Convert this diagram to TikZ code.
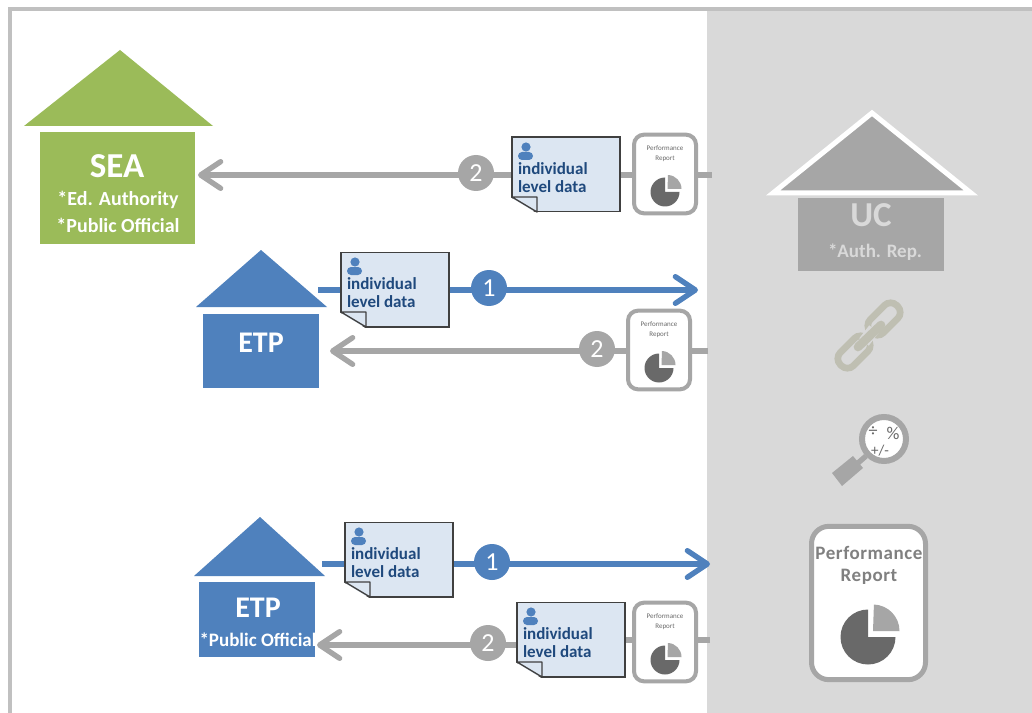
\documentclass[tikz,border=0pt]{standalone}
\usepackage{fontspec}
\setmainfont{Carlito}
\usetikzlibrary{arrows.meta,backgrounds}
\definecolor{grn}{HTML}{9BBB59}
\definecolor{blu}{HTML}{4F81BD}
\definecolor{dblu}{HTML}{1F497D}
\definecolor{gry}{HTML}{A6A6A6}
\definecolor{dgry}{HTML}{696969}
\definecolor{panel}{HTML}{D9D9D9}
\definecolor{frm}{HTML}{C0C0C0}
\definecolor{docfill}{HTML}{DCE6F2}
\definecolor{lnk}{HTML}{BFBFB2}
\newcommand{\fpx}[1]{\fontsize{\dimexpr#1pt*3/4\relax}{\dimexpr#1pt*3/4\relax}\selectfont}
\tikzset{
  x=0.75pt,y=-0.75pt,
  bodybox/.style={rectangle,inner sep=0pt,outer sep=0pt},
  lbl/.style={inner sep=0pt,outer sep=0pt,text=white},
  docbox/.style={rectangle,draw=black!75,line width=1pt,fill=docfill,inner sep=0pt,outer sep=0pt,minimum width=81pt,minimum height=56pt},
  doctext/.style={inner sep=0pt,outer sep=0pt,text=dblu,anchor=west,font=\fpx{17}\bfseries},
  repbox/.style={rectangle,draw=gry,line width=3pt,fill=white,rounded corners=7.5pt,inner sep=0pt,outer sep=0pt,minimum width=46.5pt,minimum height=59pt},
  reptext/.style={inner sep=0pt,outer sep=0pt,text=dgry,font=\fpx{7}},
  badge/.style={circle,inner sep=0pt,outer sep=0pt,text=white,minimum size=27pt,font=\fpx{26}},
  garrow/.style={draw=gry,line width=4.2pt},
  barrow/.style={draw=blu,line width=4.2pt},
  tip/.style={-{Straight Barb[length=15pt,width=20pt,line width=4pt,round]}},
  linkbox/.style={rectangle,draw=lnk,line width=5pt,rounded corners=6.5pt,inner sep=0pt,outer sep=0pt,minimum width=28pt,minimum height=14pt,rotate=45},
}
\newcommand{\docnode}[3]{%
  \node[docbox] (#1) at ({#2+54},{#3+37.5}) {};
  \fill[white] (#2-2,#3+60) -- (#2+25,#3+76.5) -- (#2-2,#3+76.5) -- cycle;
  \draw[black!75,line width=1pt,line join=round] (#2,#3+60) -- (#2+25,#3+60) -- (#2+25,#3+75) -- cycle;
  \fill[blu] (#2+14,#3+10) circle (4.6);
  \fill[blu,rounded corners=3pt] (#2+6,#3+23) -- (#2+6,#3+15) -- (#2+21,#3+15) -- (#2+21,#3+23) -- cycle;
  \node[doctext] (#1a) at (#2+6,#3+32) {individual};
  \node[doctext] (#1b) at (#2+6,#3+50) {level data};
}
\newcommand{\repnode}[3]{%
  \node[repbox] (#1) at (#2,#3) {};
  \node[reptext] (#1a) at (#2,#3-25.5) {Performance};
  \node[reptext] (#1b) at (#2,#3-15.5) {Report};
  \fill[dgry] (#2,#3+18) -- ++(-90:14.5) arc (-90:-360:14.5) -- cycle;
  \fill[gry] (#2+2.5,#3+15) -- ++(0:14) arc (0:-88:14) -- cycle;
}
\begin{document}
\begin{tikzpicture}
\useasboundingbox (0,0) rectangle (1032,713);
% roofs and bodies
\node[bodybox,fill=grn,minimum width=116.25pt,minimum height=84pt] (sea) at (117.5,188) {};
\fill[grn] (120,50) -- (213,126) -- (24,126) -- cycle;
\node[lbl,font=\fpx{35}\bfseries] (seaT) at (117,166) {SEA};
\node[lbl,font=\fpx{20}\bfseries] (seaA) at (118,200) {*Ed. Authority};
\node[lbl,font=\fpx{20}\bfseries] (seaB) at (118,225) {*Public Official};

\node[bodybox,fill=blu,minimum width=87pt,minimum height=55.5pt] (etpa) at (261,351) {};
\fill[blu] (261,250) -- (327,307) -- (196,307) -- cycle;
\node[lbl,font=\fpx{30}\bfseries] (etpaT) at (261,343) {ETP};

\node[bodybox,fill=blu,minimum width=87pt,minimum height=56.25pt] (etpb) at (257,619.5) {};
\fill[blu] (260,517) -- (325,576) -- (194,576) -- cycle;
\node[lbl,font=\fpx{30}\bfseries] (etpbT) at (258,608) {ETP};
\node[lbl,font=\fpx{19}\bfseries] (etpbA) at (258,640) {*Public Official};

% documents and reports
\docnode{doca}{512}{137}
\repnode{repa}{665}{174}
\docnode{docb}{341}{252}
\repnode{repb}{659}{350}
\docnode{docc}{345}{522}
\docnode{docd}{517}{602}
\repnode{repd}{665}{642}

% badges
\node[badge,fill=gry] (ba) at (476,173) {2};
\node[badge,fill=blu] (bb) at (489,288) {1};
\node[badge,fill=gry] (bc) at (597,349) {2};
\node[badge,fill=blu] (bd) at (492,562) {1};
\node[badge,fill=gry] (be) at (488,643) {2};

% free ends
\coordinate (ea) at (712,175);
\coordinate (eb) at (698,290);
\coordinate (ec) at (708,351);
\coordinate (ed) at (710,564);
\coordinate (ee) at (710,640);
\coordinate (sb) at (318,290);
\coordinate (sd) at (322,564);
\coordinate (ta) at (198,175);
\coordinate (tc) at (330,351);
\coordinate (te) at (317,645);

\begin{pgfonlayer}{background}
  \fill[white] (0,0) rectangle (1032,713);
  \fill[panel] (707,10) rectangle (1032,713);
  \draw[frm,line width=3pt] (9.5,713) -- (9.5,9.5) -- (1032,9.5);
  \draw[garrow] (ea) -- (repa.east |- ea);
  \draw[garrow] (repa.west |- ea) -- (doca.east |- ea);
  \draw[garrow,tip] (doca.west |- ta) -- (ba.center |- ta) -- (ta);
  \draw[barrow] (sb) -- (docb.west |- sb);
  \draw[barrow,tip] (docb.east |- eb) -- (bb.center |- eb) -- (eb);
  \draw[garrow] (ec) -- (repb.east |- ec);
  \draw[garrow,tip] (repb.west |- tc) -- (bc.center |- tc) -- (tc);
  \draw[barrow] (sd) -- (docc.west |- sd);
  \draw[barrow,tip] (docc.east |- ed) -- (bd.center |- ed) -- (ed);
  \draw[garrow] (ee) -- (repd.east |- ee);
  \draw[garrow] (repd.west |- ee) -- (docd.east |- ee);
  \draw[garrow,tip] (docd.west |- te) -- (be.center |- te) -- (te);
\end{pgfonlayer}

% UC house
\fill[gry] (872,113) -- (971,193) -- (773,193) -- cycle;
\draw[white,line width=3.75pt,line join=miter] (872,113) -- (971,193) -- (773,193) -- cycle;
\node[bodybox,fill=gry,minimum width=109.5pt,minimum height=54.75pt] (uc) at (871,234.5) {};
\node[lbl,text=panel,font=\fpx{35}\bfseries] (ucT) at (871,215) {UC};
\node[lbl,text=panel,font=\fpx{19}\bfseries] (ucA) at (875,252) {*Auth. Rep.};

% chain
\node[linkbox] (linka) at (884,319) {};
\node[linkbox] (linkb) at (854,352) {};
\draw[panel,line width=9pt] (874,329) -- (864,342);
\draw[lnk,line width=6.5pt,line cap=round] (881,325) -- (858,347);

% magnifier
\draw[gry,line width=4pt] (866,456) -- (858,463);
\fill[gry] (832,473) -- (853,456) -- (863,468) -- (842,486) -- cycle;
\node[circle,draw=gry,fill=white,line width=4.5pt,minimum size=33pt,inner sep=0pt,outer sep=0pt] (mag) at (884,439) {};
\node[inner sep=0pt,text=dgry,font=\fpx{18}] (magA) at (873,432) {÷};
\node[inner sep=0pt,text=dgry,font=\fpx{18}] (magB) at (893,433) {\%};
\node[inner sep=0pt,text=dgry,font=\fpx{15}] (magC) at (880,451) {+/-};

% big report
\node[rectangle,draw=gry,line width=3.75pt,fill=white,rounded corners=13pt,inner sep=0pt,outer sep=0pt,minimum width=85.5pt,minimum height=115pt] (big) at (868.5,603) {};
\node[inner sep=0pt,text=dgry!85,font=\fpx{19}\bfseries] (bigA) at (869,553) {\addfontfeatures{LetterSpace=3}Performance};
\node[inner sep=0pt,text=dgry!85,font=\fpx{19}\bfseries] (bigB) at (869,577) {\addfontfeatures{LetterSpace=3}Report};
\fill[dgry] (868,637) -- ++(-90:27.5) arc (-90:-360:27.5) -- cycle;
\fill[gry] (873,631) -- ++(0:26.5) arc (0:-88:26.5) -- cycle;
\end{tikzpicture}
\end{document}
